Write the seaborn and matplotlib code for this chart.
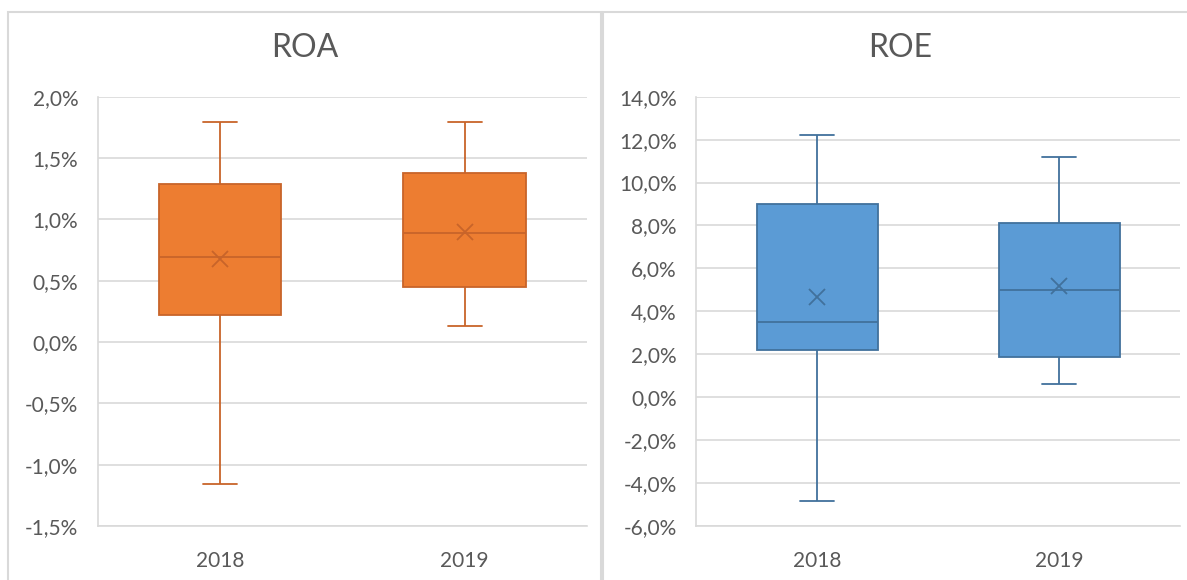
import matplotlib
matplotlib.use("Agg")
import matplotlib.pyplot as plt
from matplotlib.ticker import FuncFormatter, MultipleLocator
from matplotlib.patches import Rectangle
import seaborn as sns
import pandas as pd

# Five-number summaries (in %) per year, plus the mean marked with an X
years = ["2018", "2019"]

roa_min = [-1.16, 0.13]
roa_q1 = [0.22, 0.445]
roa_median = [0.695, 0.89]
roa_q3 = [1.285, 1.375]
roa_max = [1.79, 1.79]
roa_mean = [0.68, 0.90]

roe_min = [-4.82, 0.63]
roe_q1 = [2.19, 1.89]
roe_median = [3.49, 5.00]
roe_q3 = [9.02, 8.10]
roe_max = [12.22, 11.18]
roe_mean = [4.68, 5.18]

roa_ticks = (-1.5, 2.0, 0.5)
roe_ticks = (-6.0, 14.0, 2.0)

TEXT = "#595959"
GRID = "#D9D9D9"

sns.set_theme(style="white")
plt.rcParams["font.family"] = ["Lato", "DejaVu Sans"]

W, H = 1187, 580


def summary_frame(lo, q1, med, q3, hi):
    rows = []
    for i, y in enumerate(years):
        for v in (lo[i], q1[i], med[i], q3[i], hi[i]):
            rows.append({"year": y, "value": v})
    return pd.DataFrame(rows)


def pct(v, _):
    return f"{v:.1f}%".replace(".", ",")


def draw(ax, df, means, fill, edge, ticks):
    lo, hi, step = ticks
    sns.boxplot(
        data=df, x="year", y="value", ax=ax, whis=(0, 100), width=0.5,
        color=fill, saturation=1, linewidth=1.3, linecolor=edge,
        showfliers=False,
        boxprops=dict(facecolor=fill, edgecolor=edge),
        whiskerprops=dict(color=edge), capprops=dict(color=edge),
        medianprops=dict(color=edge), capwidths=0.14,
    )
    sns.pointplot(
        x=years, y=means, ax=ax, linestyle="none", markers="x",
        color=edge, markersize=12, markeredgewidth=1.3, errorbar=None,
    )
    ax.set_xlim(-0.5, 1.5)
    ax.set_ylim(lo, hi)
    ax.yaxis.set_major_locator(MultipleLocator(step))
    ax.yaxis.set_major_formatter(FuncFormatter(pct))
    ax.grid(axis="y", color=GRID, linewidth=1.2)
    ax.set_axisbelow(True)
    for s in ("top", "right"):
        ax.spines[s].set_visible(False)
    for s in ("left", "bottom"):
        ax.spines[s].set_color(GRID)
        ax.spines[s].set_linewidth(1.2)
    ax.tick_params(axis="y", length=0, pad=14, labelsize=15, labelcolor=TEXT)
    ax.tick_params(axis="x", length=0, pad=18, labelsize=15, labelcolor=TEXT)
    ax.set_xlabel("")
    ax.set_ylabel("")


fig = plt.figure(figsize=(11.87, 5.8), dpi=100)
fig.patch.set_facecolor("white")

# Chart frames
for x0, x1 in ((8, 601), (603, 1200)):
    fig.add_artist(Rectangle((x0 / W, -0.05), (x1 - x0) / W, 1 - 12 / H + 0.05,
                             transform=fig.transFigure, fill=False,
                             edgecolor=GRID, linewidth=1.5))

# Chart titles, centred on each frame
fig.text(305 / W, 1 - 48 / H, "ROA", ha="center", va="center",
         fontsize=23, color=TEXT)
fig.text(900 / W, 1 - 48 / H, "ROE", ha="center", va="center",
         fontsize=23, color=TEXT)

ax1 = fig.add_axes([97.6 / W, 1 - 526 / H, (587 - 97.6) / W, (526 - 96.7) / H])
ax2 = fig.add_axes([696 / W, 1 - 526 / H, (1180 - 696) / W, (526 - 96.7) / H])

draw(ax1, summary_frame(roa_min, roa_q1, roa_median, roa_q3, roa_max),
     roa_mean, "#ED7D31", "#C8642A", roa_ticks)
draw(ax2, summary_frame(roe_min, roe_q1, roe_median, roe_q3, roe_max),
     roe_mean, "#5B9BD5", "#41719C", roe_ticks)

fig.savefig("out.png", dpi=100)
